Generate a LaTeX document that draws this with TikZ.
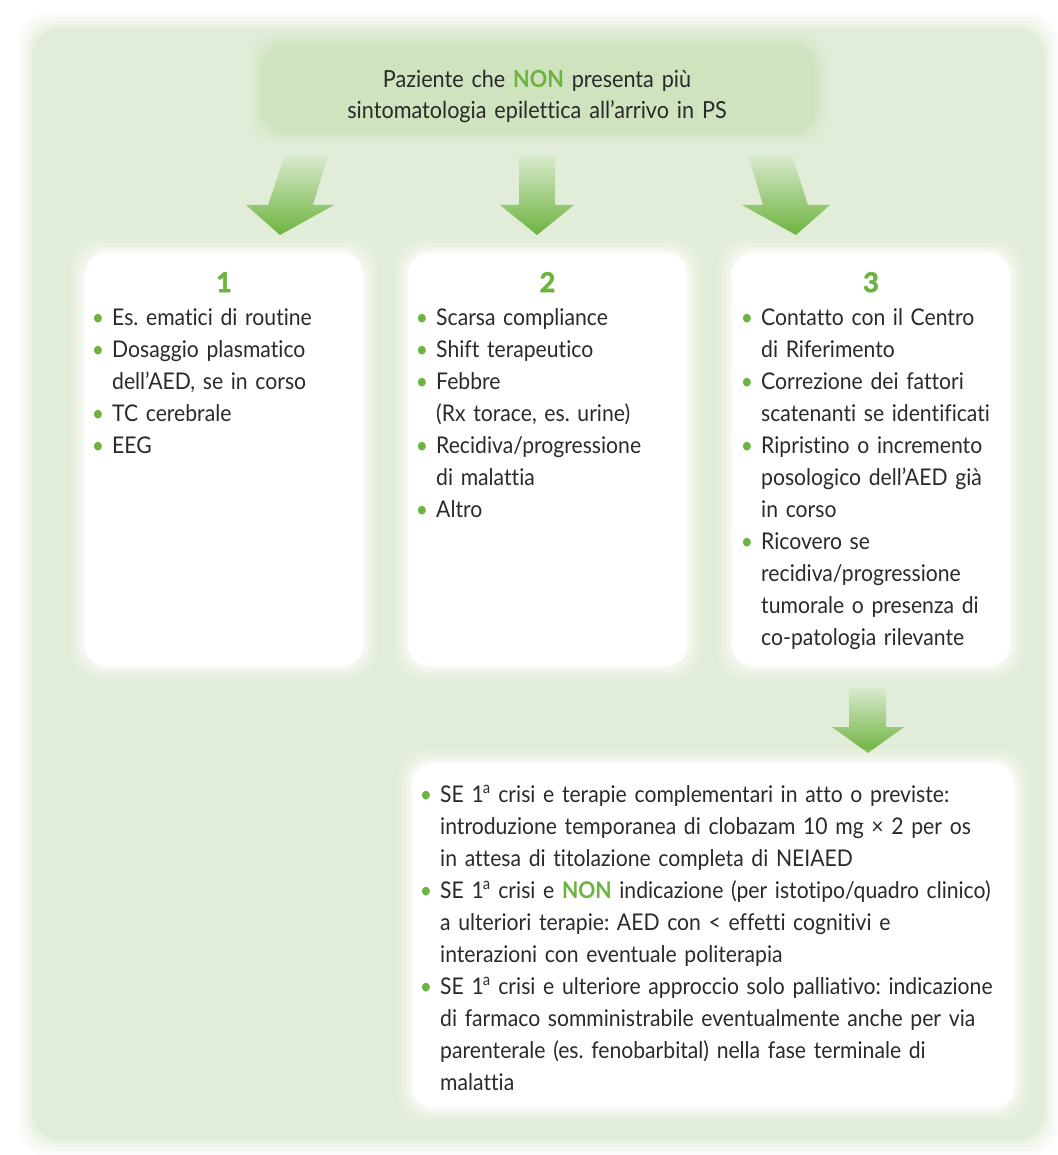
\documentclass[tikz,border=0pt]{standalone}
\usepackage{fontspec}
\setmainfont{Lato}[FakeStretch=0.92, Ligatures=NoCommon]
\newfontfamily\numfont{Lato}[FakeBold=2.5]
\frenchspacing
\definecolor{panel}{HTML}{E2EDD9}
\definecolor{topbox}{HTML}{CFE3BF}
\definecolor{gr}{HTML}{6DB33F}
\definecolor{arrtop}{HTML}{D9EACD}
\definecolor{txt}{HTML}{2A2A2A}
\newcommand\itm{\leavevmode\llap{\textcolor{gr}{\textbullet}\hspace{8pt}}}
\newcommand\NONg{\textcolor{gr}{\bfseries NON}}
\newcommand\halo[5]{%
  \foreach \e/\o in {14/0.15,10/0.2,6/0.3,3/0.4}{%
    \fill[#5, opacity=\o, rounded corners=28pt] (#1-\e,#2-\e) rectangle (#3+\e,#4+\e);}}
\begin{document}
\begin{tikzpicture}[x=1pt,y=-1pt,
  txtnode/.style={anchor=north west, inner sep=0pt, align=left, text=txt,
    font=\fontsize{23}{32}\selectfont\frenchspacing},
  wbox/.style={fill=white, rounded corners=22pt, inner sep=0pt},
  numlbl/.style={anchor=base, inner sep=0pt, text=gr,
    font=\fontsize{27}{30}\selectfont\numfont\bfseries},
  arr/.style={top color=arrtop, bottom color=gr, draw=none}]

\useasboundingbox (0,0) rectangle (1057,1155);

% outer panel
\halo{32}{27}{1045}{1141}{panel}
\fill[panel, rounded corners=30pt] (32,27) rectangle (1045,1141);

% top box
\halo{262}{45}{815}{132}{topbox}
\node[fill=topbox, rounded corners=22pt, minimum width=553pt, minimum height=87pt, inner sep=0pt] (top) at (538.5,88.5) {};
\node[anchor=north, inner sep=0pt, align=center, text width=540pt, text=txt,
  font=\fontsize{23.5}{31}\selectfont] (toptext) at (537,65.3)
  {\strut Paziente che \NONg\ presenta più\\ sintomatologia epilettica all’arrivo in PS};

% arrows from top box
\shade[arr] (285,155) -- (328,155) -- (313,205) -- (334,205) -- (280,235) -- (246,205) -- (268,205) -- cycle;
\shade[arr] (519,155) -- (555,155) -- (555,205) -- (574,205) -- (537,235) -- (500,205) -- (519,205) -- cycle;
\shade[arr] (748,155) -- (792,155) -- (808,205) -- (830,205) -- (796,235) -- (742,205) -- (763,205) -- cycle;

% three boxes
\halo{85}{253}{363}{666}{white}
\halo{408}{253}{687}{666}{white}
\halo{732}{253}{1010}{666}{white}
\node[wbox, minimum width=278pt, minimum height=413pt] (b1) at (224,459.5) {};
\node[wbox, minimum width=279pt, minimum height=413pt] (b2) at (547.5,459.5) {};
\node[wbox, minimum width=278pt, minimum height=413pt] (b3) at (871,459.5) {};

\node[numlbl] (n1) at (224,292) {1};
\node[numlbl] (n2) at (547.5,292) {2};
\node[numlbl] (n3) at (871,292) {3};

\node[txtnode, text width=300pt] (t1) at (112,302.6)
  {\noindent\strut\itm Es. ematici di routine\\
   \itm Dosaggio plasmatico\\
   dell’AED, se in corso\\
   \itm TC cerebrale\\
   \itm EEG};
\node[txtnode, text width=300pt] (t2) at (436,302.6)
  {\noindent\strut\itm Scarsa compliance\\
   \itm Shift terapeutico\\
   \itm Febbre\\
   (Rx torace, es. urine)\\
   \itm Recidiva/progressione\\
   di malattia\\
   \itm Altro};
\node[txtnode, text width=300pt] (t3) at (761,302.6)
  {\noindent\strut\itm Contatto con il Centro\\
   di Riferimento\\
   \itm Correzione dei fattori\\
   scatenanti se identificati\\
   \itm Ripristino o incremento\\
   posologico dell’AED già\\
   in corso\\
   \itm Ricovero se\\
   recidiva/progressione\\
   tumorale o presenza di\\
   co-patologia rilevante};

% arrow to bottom box
\shade[arr] (849,688) -- (886,688) -- (886,727) -- (904,727) -- (868,753) -- (832,727) -- (849,727) -- cycle;

% bottom box
\halo{412}{763}{1015}{1108}{white}
\node[wbox, minimum width=603pt, minimum height=345pt] (b4) at (713.5,935.5) {};
\node[txtnode, text width=700pt] (t4) at (440,779.6)
  {\noindent\strut\itm SE 1\kern-1pt\textsuperscript{a} crisi e terapie complementari in atto o previste:\\
   introduzione temporanea di clobazam 10 mg × 2 per os\\
   in attesa di titolazione completa di NEIAED\\
   \itm SE 1\kern-1pt\textsuperscript{a} crisi e \NONg\ indicazione (per istotipo/quadro clinico)\\
   a ulteriori terapie: AED con < effetti cognitivi e\\
   interazioni con eventuale politerapia\\
   \itm SE 1\kern-1pt\textsuperscript{a} crisi e ulteriore approccio solo palliativo: indicazione\\
   di farmaco somministrabile eventualmente anche per via\\
   parenterale (es. fenobarbital) nella fase terminale di\\
   malattia};
\end{tikzpicture}
\end{document}
